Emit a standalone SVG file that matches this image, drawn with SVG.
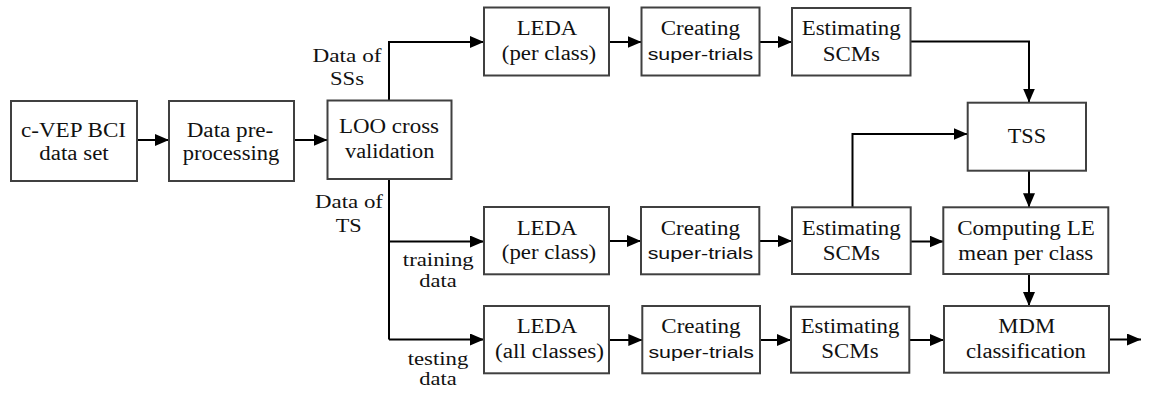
<svg xmlns="http://www.w3.org/2000/svg" width="1152" height="393" viewBox="0 0 1152 393">
  <style>
    .box { fill: #ffffff; stroke: #404040; stroke-width: 2; }
    .lbl { font-family: 'Liberation Serif', 'DejaVu Serif', 'Times New Roman', Times, serif; font-size: 20px; fill: #111111; text-anchor: middle; }
    .edge { font-size: 19px; }
    .sans { font-family: 'Liberation Sans', Arial, sans-serif; font-size: 17px; fill: #111111; text-anchor: middle; }
    .wire { fill: none; stroke: #000000; stroke-width: 2; }
    .arr { marker-end: url(#head); }
  </style>
  <defs>
    <marker id="head" markerUnits="userSpaceOnUse" markerWidth="14" markerHeight="12" refX="14" refY="6" orient="auto">
      <path d="M0,0 L14,6 L0,12 Z" fill="#000000"/>
    </marker>
  </defs>

  <rect width="1152" height="393" fill="#ffffff"/>

  <!-- connectors -->
  <g id="connectors">
    <path class="wire arr" d="M137,140 H169"/>
    <path class="wire arr" d="M294,140 H327.5"/>
    <!-- split from cross validation -->
    <path class="wire arr" d="M389,100.5 V42 H484"/>
    <path class="wire" d="M389,179 V339.5"/>
    <path class="wire arr" d="M389,241.5 H484"/>
    <path class="wire arr" d="M389,339.5 H484"/>
    <!-- top row -->
    <path class="wire arr" d="M609,42 H641.5"/>
    <path class="wire arr" d="M759.5,42 H792"/>
    <path class="wire arr" d="M910.5,41.5 H1029 V102.5"/>
    <!-- middle row -->
    <path class="wire arr" d="M609,241 H641"/>
    <path class="wire arr" d="M759.5,241 H792"/>
    <path class="wire arr" d="M852.5,207 V134 H967.5"/>
    <path class="wire arr" d="M910.5,241.5 H943.5"/>
    <path class="wire arr" d="M1029,170.5 V207.3"/>
    <path class="wire arr" d="M1029,274 V306"/>
    <!-- bottom row -->
    <path class="wire arr" d="M609,340 H642.3"/>
    <path class="wire arr" d="M760,340 H791"/>
    <path class="wire arr" d="M909.3,340 H944"/>
    <path class="wire arr" d="M1109,339.5 H1141"/>
  </g>

  <!-- edge labels -->
  <g id="edge-labels">
    <text class="lbl edge" x="347" y="62.3" textLength="69" lengthAdjust="spacingAndGlyphs">Data of</text>
    <text class="lbl edge" x="347" y="85" textLength="34" lengthAdjust="spacingAndGlyphs">SSs</text>
    <text class="lbl edge" x="349" y="208.3" textLength="68" lengthAdjust="spacingAndGlyphs">Data of</text>
    <text class="lbl edge" x="348.7" y="231.7" textLength="26" lengthAdjust="spacingAndGlyphs">TS</text>
    <text class="lbl edge" x="438.3" y="266" textLength="71" lengthAdjust="spacingAndGlyphs">training</text>
    <text class="lbl edge" x="438" y="287.3" textLength="37.4" lengthAdjust="spacingAndGlyphs">data</text>
    <text class="lbl edge" x="438" y="364.5" textLength="60.6" lengthAdjust="spacingAndGlyphs">testing</text>
    <text class="lbl edge" x="438" y="385" textLength="37.4" lengthAdjust="spacingAndGlyphs">data</text>
  </g>

  <g id="dataset">
    <rect class="box" x="11" y="101" width="126" height="80"/>
    <text class="lbl" x="73.5" y="136.7" textLength="105" lengthAdjust="spacingAndGlyphs">c-VEP BCI</text>
    <text class="lbl" x="74" y="160" textLength="69.4" lengthAdjust="spacingAndGlyphs">data set</text>
  </g>

  <g id="preprocessing">
    <rect class="box" x="169" y="101" width="125" height="80"/>
    <text class="lbl" x="230" y="136.7" textLength="86.6" lengthAdjust="spacingAndGlyphs">Data pre-</text>
    <text class="lbl" x="231" y="160" textLength="96.6" lengthAdjust="spacingAndGlyphs">processing</text>
  </g>

  <g id="loo">
    <rect class="box" x="327.5" y="100.5" width="124" height="78.5"/>
    <text class="lbl" x="389" y="133.3" textLength="100" lengthAdjust="spacingAndGlyphs">LOO cross</text>
    <text class="lbl" x="389.7" y="158.3" textLength="89.3" lengthAdjust="spacingAndGlyphs">validation</text>
  </g>

  <!-- top row: data of SSs -->
  <g id="leda-ss">
    <rect class="box" x="484" y="7.5" width="125" height="68"/>
    <text class="lbl" x="547" y="35" textLength="60.6" lengthAdjust="spacingAndGlyphs">LEDA</text>
    <text class="lbl" x="549" y="60" textLength="94.4" lengthAdjust="spacingAndGlyphs">(per class)</text>
  </g>
  <g id="super-ss">
    <rect class="box" x="641.5" y="7.5" width="118" height="68"/>
    <text class="lbl" x="700.3" y="35" textLength="79.3" lengthAdjust="spacingAndGlyphs">Creating</text>
    <text class="sans" x="700.5" y="60" textLength="105.6" lengthAdjust="spacingAndGlyphs">super-trials</text>
  </g>
  <g id="scm-ss">
    <rect class="box" x="792" y="8" width="118.5" height="67.5"/>
    <text class="lbl" x="851.2" y="35" textLength="99" lengthAdjust="spacingAndGlyphs">Estimating</text>
    <text class="lbl" x="851.3" y="60.5" textLength="57.3" lengthAdjust="spacingAndGlyphs">SCMs</text>
  </g>
  <g id="tss">
    <rect class="box" x="967.7" y="102.7" width="118.3" height="68"/>
    <text class="lbl" x="1026.9" y="143.3" textLength="38.3" lengthAdjust="spacingAndGlyphs">TSS</text>
  </g>

  <!-- middle row: training data -->
  <g id="leda-train">
    <rect class="box" x="484" y="207" width="125" height="67.3"/>
    <text class="lbl" x="547" y="234.5" textLength="60.6" lengthAdjust="spacingAndGlyphs">LEDA</text>
    <text class="lbl" x="549" y="258.5" textLength="94.4" lengthAdjust="spacingAndGlyphs">(per class)</text>
  </g>
  <g id="super-train">
    <rect class="box" x="641" y="207" width="118.3" height="67.3"/>
    <text class="lbl" x="700.3" y="234.5" textLength="79.3" lengthAdjust="spacingAndGlyphs">Creating</text>
    <text class="sans" x="700.5" y="258.5" textLength="105.6" lengthAdjust="spacingAndGlyphs">super-trials</text>
  </g>
  <g id="scm-train">
    <rect class="box" x="792" y="207.3" width="118.7" height="66.7"/>
    <text class="lbl" x="851.2" y="235" textLength="99" lengthAdjust="spacingAndGlyphs">Estimating</text>
    <text class="lbl" x="851.3" y="260" textLength="57.3" lengthAdjust="spacingAndGlyphs">SCMs</text>
  </g>
  <g id="mean">
    <rect class="box" x="943.3" y="207.3" width="165" height="66.7"/>
    <text class="lbl" x="1026" y="235" textLength="137.7" lengthAdjust="spacingAndGlyphs">Computing LE</text>
    <text class="lbl" x="1025.8" y="260" textLength="135" lengthAdjust="spacingAndGlyphs">mean per class</text>
  </g>

  <!-- bottom row: testing data -->
  <g id="leda-test">
    <rect class="box" x="484" y="306" width="125" height="67.3"/>
    <text class="lbl" x="547" y="333.3" textLength="60.6" lengthAdjust="spacingAndGlyphs">LEDA</text>
    <text class="lbl" x="549.5" y="358.3" textLength="109" lengthAdjust="spacingAndGlyphs">(all classes)</text>
  </g>
  <g id="super-test">
    <rect class="box" x="642.3" y="306" width="117.7" height="67.3"/>
    <text class="lbl" x="701" y="333.3" textLength="79.3" lengthAdjust="spacingAndGlyphs">Creating</text>
    <text class="sans" x="701.2" y="358.3" textLength="105.6" lengthAdjust="spacingAndGlyphs">super-trials</text>
  </g>
  <g id="scm-test">
    <rect class="box" x="791" y="306.7" width="118.3" height="66"/>
    <text class="lbl" x="850" y="333.3" textLength="98.6" lengthAdjust="spacingAndGlyphs">Estimating</text>
    <text class="lbl" x="850" y="358.3" textLength="57.3" lengthAdjust="spacingAndGlyphs">SCMs</text>
  </g>
  <g id="mdm">
    <rect class="box" x="944" y="306" width="165" height="66.7"/>
    <text class="lbl" x="1026.7" y="333.3" textLength="56.7" lengthAdjust="spacingAndGlyphs">MDM</text>
    <text class="lbl" x="1026" y="358.3" textLength="120" lengthAdjust="spacingAndGlyphs">classification</text>
  </g>
</svg>
